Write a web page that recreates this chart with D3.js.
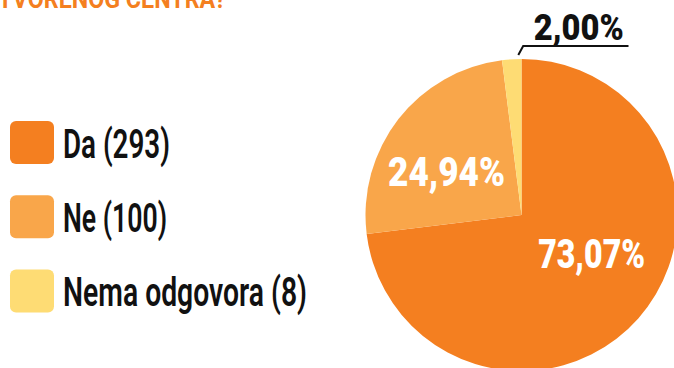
<!DOCTYPE html>
<html>
<head>
<meta charset="utf-8">
<script src="https://cdn.jsdelivr.net/npm/d3@7/dist/d3.min.js"></script>
<style>
  html, body { margin: 0; padding: 0; background: #ffffff; overflow: hidden; }
  svg { display: block; }
</style>
</head>
<body>
<svg id="chart" width="674" height="368"></svg>
<script>
// Survey answers
const categories = ["Da", "Ne", "Nema odgovora"];
const counts = [293, 100, 8];
const percentLabels = ["73,07%", "24,94%", "2,00%"];
const titleText = "TVORENOG CENTRA?";

const colors = d3.scaleOrdinal()
  .domain(categories)
  .range(["#f47f20", "#f9a64a", "#fedc74"]);

const svg = d3.select("#chart");

// Title line (top edge of the panel)
svg.append("text")
  .attr("x", -2)
  .attr("y", 8)
  .attr("fill", "#f47f20")
  .attr("font-family", "Roboto, 'Liberation Sans', sans-serif")
  .attr("font-weight", 700)
  .attr("font-size", 26)
  .attr("textLength", 228)
  .attr("lengthAdjust", "spacingAndGlyphs")
  .text(titleText);

// Pie
const cx = 521.5, cy = 215, R = 156;
const data = categories.map((c, i) => ({ name: c, value: counts[i], label: percentLabels[i] }));

const pie = d3.pie().sort(null).value(d => d.value);
const arcs = pie(data);
const arc = d3.arc().innerRadius(0).outerRadius(R);

const g = svg.append("g").attr("transform", `translate(${cx},${cy})`);

g.selectAll("path.slice")
  .data(arcs)
  .join("path")
  .attr("class", "slice")
  .attr("d", arc)
  .attr("fill", d => colors(d.data.name));

// Inside labels for the two large slices
const labelArc = d3.arc().innerRadius(95).outerRadius(95);
const inside = [
  { i: 0, dx: -1, dy: -10, len: 107, size: 41 },
  { i: 1, dx: 0, dy: 29, len: 117, size: 41 }
];
inside.forEach(o => {
  const [x, y] = labelArc.centroid(arcs[o.i]);
  g.append("text")
    .attr("x", x + o.dx)
    .attr("y", y + o.dy)
    .attr("text-anchor", "middle")
    .attr("fill", "#ffffff")
    .attr("font-family", "Roboto, Inter, sans-serif")
    .attr("font-weight", 900)
    .attr("font-size", o.size)
    .attr("textLength", o.len)
    .attr("lengthAdjust", "spacingAndGlyphs")
    .text(arcs[o.i].data.label);
});

// Outside label with leader line for the small slice
const small = arcs[2];
const at = (a, r) => d3.arc().innerRadius(r).outerRadius(r).centroid({ startAngle: a, endAngle: a });
const p0 = at(small.endAngle - 0.02, R + 4);
const p1 = at(small.endAngle + 0.01, R + 13);
const lineEnd = 107;
g.append("path")
  .attr("d", `M${p0[0]},${p0[1]}L${p1[0]},${p1[1]}H${lineEnd}`)
  .attr("fill", "none")
  .attr("stroke", "#111111")
  .attr("stroke-width", 2);
g.append("text")
  .attr("x", (p1[0] + lineEnd) / 2 + 3)
  .attr("y", p1[1] - 6)
  .attr("text-anchor", "middle")
  .attr("fill", "#111111")
  .attr("font-family", "Roboto, Inter, sans-serif")
  .attr("font-weight", 900)
  .attr("font-size", 37)
  .attr("textLength", 90)
  .attr("lengthAdjust", "spacingAndGlyphs")
  .text(small.data.label);

// Legend
const legendY = d3.scalePoint().domain(categories).range([142.5, 291]);
const legendWidths = [107, 104, 244];
const items = svg.append("g").selectAll("g.item")
  .data(data)
  .join("g")
  .attr("class", "item")
  .attr("transform", d => `translate(10,${legendY(d.name)})`);

items.append("rect")
  .attr("x", 0)
  .attr("y", -21.5)
  .attr("width", 44)
  .attr("height", 43)
  .attr("rx", 6)
  .attr("fill", d => colors(d.name));

items.append("text")
  .attr("x", 53)
  .attr("y", 15)
  .attr("fill", "#111111")
  .attr("font-family", "Roboto, 'Liberation Sans', sans-serif")
  .attr("font-weight", 600)
  .attr("font-size", 41)
  .attr("textLength", (d, i) => legendWidths[i])
  .attr("lengthAdjust", "spacingAndGlyphs")
  .text(d => `${d.name} (${d.value})`);
</script>
</body>
</html>
